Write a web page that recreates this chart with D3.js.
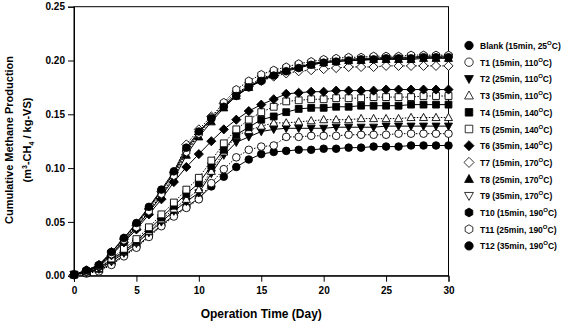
<!DOCTYPE html>
<html>
<head>
<meta charset="utf-8">
<script src="https://cdn.jsdelivr.net/npm/d3@7"></script>
<style>
  body { margin: 0; background: #fff; }
  text { font-family: "Liberation Sans", Arial, sans-serif; font-weight: bold; fill: #000; }
</style>
</head>
<body>
<svg id="svg1" width="570" height="323"></svg>
<script>
// operation days
var days = d3.range(0, 31);
var xTicks = [0, 5, 10, 15, 20, 25, 30];
var yTicks = [0.00, 0.05, 0.10, 0.15, 0.20, 0.25];

var seriesNames = ['Blank', 'T1', 'T2', 'T3', 'T4', 'T5', 'T6', 'T7', 'T8', 'T9', 'T10', 'T11', 'T12'];
var seriesLabels = ['Blank (15min, 25', 'T1 (15min, 110', 'T2 (25min, 110', 'T3 (35min, 110',
                    'T4 (15min, 140', 'T5 (25min, 140', 'T6 (35min, 140', 'T7 (15min, 170',
                    'T8 (25min, 170', 'T9 (35min, 170', 'T10 (15min, 190', 'T11 (25min, 190',
                    'T12 (35min, 190'];

// cumulative methane, m3 CH4 / kg VS, day 0..30
var blank = [0.001, 0.003, 0.005, 0.011, 0.019, 0.027, 0.037, 0.047, 0.056, 0.064, 0.072, 0.083, 0.092, 0.101, 0.108, 0.113,
             0.115, 0.116, 0.117, 0.117, 0.118, 0.118, 0.119, 0.119, 0.120, 0.120, 0.120, 0.121, 0.121, 0.121, 0.121];
var t1 = [0.001, 0.002, 0.004, 0.010, 0.018, 0.026, 0.036, 0.046, 0.055, 0.063, 0.071, 0.086, 0.099, 0.110, 0.117, 0.120,
          0.121, 0.129, 0.129, 0.130, 0.130, 0.130, 0.131, 0.131, 0.131, 0.131, 0.132, 0.132, 0.132, 0.132, 0.132];
var t2 = [0.001, 0.003, 0.006, 0.013, 0.021, 0.030, 0.040, 0.050, 0.060, 0.069, 0.077, 0.095, 0.112, 0.124, 0.129, 0.134,
          0.136, 0.137, 0.137, 0.137, 0.137, 0.138, 0.138, 0.138, 0.138, 0.139, 0.139, 0.139, 0.139, 0.139, 0.139];
var t3 = [0.001, 0.003, 0.006, 0.014, 0.022, 0.031, 0.041, 0.052, 0.062, 0.071, 0.080, 0.097, 0.115, 0.130, 0.135, 0.139,
          0.142, 0.142, 0.143, 0.144, 0.145, 0.145, 0.145, 0.146, 0.146, 0.146, 0.146, 0.147, 0.147, 0.147, 0.147];
var t4 = [0.001, 0.003, 0.007, 0.015, 0.023, 0.032, 0.043, 0.054, 0.065, 0.076, 0.086, 0.102, 0.117, 0.131, 0.138, 0.145,
          0.148, 0.152, 0.155, 0.156, 0.156, 0.157, 0.157, 0.158, 0.158, 0.158, 0.158, 0.159, 0.159, 0.159, 0.159];
var t5 = [0.001, 0.003, 0.007, 0.016, 0.025, 0.034, 0.045, 0.057, 0.068, 0.080, 0.091, 0.107, 0.123, 0.136, 0.145, 0.152,
          0.157, 0.162, 0.163, 0.164, 0.164, 0.165, 0.165, 0.165, 0.166, 0.166, 0.166, 0.166, 0.167, 0.167, 0.167];
var t6 = [0.001, 0.004, 0.008, 0.019, 0.031, 0.043, 0.057, 0.071, 0.087, 0.101, 0.113, 0.125, 0.136, 0.145, 0.153, 0.159,
          0.164, 0.169, 0.170, 0.171, 0.171, 0.172, 0.172, 0.172, 0.172, 0.173, 0.173, 0.173, 0.173, 0.173, 0.173];
var t7 = [0.001, 0.005, 0.010, 0.022, 0.034, 0.047, 0.062, 0.078, 0.096, 0.122, 0.136, 0.148, 0.160, 0.170, 0.176, 0.181,
          0.185, 0.188, 0.190, 0.191, 0.192, 0.193, 0.194, 0.194, 0.194, 0.195, 0.195, 0.195, 0.195, 0.195, 0.195];
var t8 = [0.001, 0.004, 0.009, 0.020, 0.032, 0.045, 0.059, 0.074, 0.090, 0.112, 0.129, 0.143, 0.156, 0.167, 0.175, 0.182,
          0.187, 0.191, 0.194, 0.196, 0.198, 0.199, 0.200, 0.200, 0.201, 0.201, 0.201, 0.201, 0.202, 0.202, 0.202];
var t9 = [0.001, 0.004, 0.009, 0.021, 0.033, 0.046, 0.060, 0.075, 0.092, 0.114, 0.131, 0.145, 0.158, 0.169, 0.177, 0.183,
          0.188, 0.192, 0.195, 0.197, 0.199, 0.200, 0.201, 0.201, 0.202, 0.202, 0.202, 0.203, 0.203, 0.203, 0.203];
var t10 = [0.001, 0.005, 0.010, 0.022, 0.035, 0.048, 0.063, 0.079, 0.095, 0.117, 0.133, 0.146, 0.158, 0.168, 0.176, 0.182,
           0.187, 0.191, 0.194, 0.197, 0.199, 0.200, 0.201, 0.202, 0.202, 0.203, 0.203, 0.203, 0.204, 0.204, 0.204];
var t11 = [0.001, 0.004, 0.009, 0.020, 0.033, 0.045, 0.060, 0.076, 0.093, 0.115, 0.132, 0.147, 0.161, 0.173, 0.181, 0.187,
           0.191, 0.194, 0.197, 0.199, 0.201, 0.202, 0.203, 0.203, 0.204, 0.204, 0.204, 0.205, 0.205, 0.205, 0.205];
var t12 = [0.001, 0.005, 0.010, 0.022, 0.035, 0.049, 0.064, 0.080, 0.097, 0.119, 0.134, 0.146, 0.157, 0.167, 0.175, 0.181,
           0.186, 0.190, 0.193, 0.196, 0.198, 0.199, 0.200, 0.201, 0.201, 0.202, 0.202, 0.202, 0.203, 0.203, 0.203];

var allValues = [blank, t1, t2, t3, t4, t5, t6, t7, t8, t9, t10, t11, t12];
var markerShapes = ['circle', 'circle', 'triDown', 'triUp', 'square', 'square', 'diamond', 'diamond',
                    'triUp', 'triDown', 'hexagon', 'hexagon', 'circle'];
var markerFilled = [true, false, true, false, true, false, true, false, true, false, true, false, true];

var svg = d3.select('#svg1');
var plotLeft = 74, plotRight = 448.5, plotTop = 6.7, plotBottom = 275.7;

var xScale = d3.scaleLinear().domain([0, 30]).range([plotLeft, plotRight]);
var yScale = d3.scaleLinear().domain([0, 0.25]).range([plotBottom, plotTop]);

function markerPath(shape, r) {
    var p = d3.path();
    if (shape == 'circle') {
        p.arc(0, 0, r, 0, 2 * Math.PI);
    } else if (shape == 'square') {
        var s = r * 0.9;
        p.rect(-s, -s, 2 * s, 2 * s);
    } else if (shape == 'diamond') {
        var d = r * 1.2;
        p.moveTo(0, -d); p.lineTo(d, 0); p.lineTo(0, d); p.lineTo(-d, 0); p.closePath();
    } else if (shape == 'triUp') {
        p.moveTo(0, -r * 1.1); p.lineTo(r * 1.05, r * 0.8); p.lineTo(-r * 1.05, r * 0.8); p.closePath();
    } else if (shape == 'triDown') {
        p.moveTo(0, r * 1.1); p.lineTo(r * 1.05, -r * 0.8); p.lineTo(-r * 1.05, -r * 0.8); p.closePath();
    } else if (shape == 'hexagon') {
        for (var k = 0; k < 6; k++) {
            var a = Math.PI / 6 + k * Math.PI / 3;
            if (k == 0) p.moveTo(r * 1.05 * Math.cos(a), r * 1.05 * Math.sin(a));
            else p.lineTo(r * 1.05 * Math.cos(a), r * 1.05 * Math.sin(a));
        }
        p.closePath();
    }
    return p.toString();
}

// frame
svg.append('rect')
    .attr('x', plotLeft).attr('y', plotTop)
    .attr('width', plotRight - plotLeft).attr('height', plotBottom - plotTop)
    .attr('fill', 'none').attr('stroke', '#000').attr('stroke-width', 1);

// axes
var yAxis = d3.axisLeft(yScale).tickValues(yTicks).tickFormat(d3.format('.2f')).tickSize(6).tickPadding(3);
var xAxis = d3.axisBottom(xScale).tickValues(xTicks).tickFormat(d3.format('d')).tickSize(6).tickPadding(5);

var gy = svg.append('g').attr('transform', 'translate(' + plotLeft + ',0)').call(yAxis);
var gx = svg.append('g').attr('transform', 'translate(0,' + plotBottom + ')').call(xAxis);
[gx, gy].forEach(function(g) {
    g.select('.domain').attr('stroke', '#000');
    g.selectAll('.tick line').attr('stroke', '#000');
    g.selectAll('.tick text').style('font-size', '10px').style('font-family', '"Liberation Sans", Arial, sans-serif')
        .style('font-weight', 'bold');
});

// series
var line = d3.line()
    .x(function(d, i) { return xScale(days[i]); })
    .y(function(d) { return yScale(d); });

allValues.forEach(function(vals, si) {
    var g = svg.append('g');
    g.append('path')
        .datum(vals)
        .attr('d', line)
        .attr('fill', 'none')
        .attr('stroke', '#000')
        .attr('stroke-width', 1)
        .attr('stroke-dasharray', markerFilled[si] ? null : '1.5,1.5');
    g.selectAll('path.mk').data(vals).enter()
        .append('path')
        .attr('class', 'mk')
        .attr('d', markerPath(markerShapes[si], 3.8))
        .attr('transform', function(d, i) { return 'translate(' + xScale(days[i]) + ',' + yScale(d) + ')'; })
        .attr('fill', markerFilled[si] ? '#000' : '#fff')
        .attr('stroke', '#000')
        .attr('stroke-width', 0.9);
});

// axis titles
svg.append('text')
    .attr('x', (plotLeft + plotRight) / 2).attr('y', 318)
    .attr('text-anchor', 'middle')
    .style('font-size', '12px')
    .text('Operation Time (Day)');

var yt = svg.append('text')
    .attr('transform', 'translate(13,140) rotate(-90)')
    .attr('text-anchor', 'middle')
    .style('font-size', '11px');
yt.append('tspan').attr('x', 0).attr('y', 0).text('Cumulative Methane Production');

var yt2 = svg.append('text')
    .attr('transform', 'translate(31,140) rotate(-90)')
    .attr('text-anchor', 'middle')
    .style('font-size', '11px');
yt2.append('tspan').text('(m');
yt2.append('tspan').attr('dy', -4).style('font-size', '7px').text('3');
yt2.append('tspan').attr('dy', 4).text('-CH');
yt2.append('tspan').attr('dy', 3).style('font-size', '7px').text('4');
yt2.append('tspan').attr('dy', -3).text(' / kg-VS)');

// legend
var legend = svg.append('g').attr('transform', 'translate(469,45.5)');
seriesNames.forEach(function(name, i) {
    var row = legend.append('g').attr('transform', 'translate(0,' + (i * 16.7) + ')');
    row.append('path')
        .attr('d', markerPath(markerShapes[i], 4.2))
        .attr('fill', markerFilled[i] ? '#000' : '#fff')
        .attr('stroke', '#000')
        .attr('stroke-width', 0.8);
    var t = row.append('text')
        .attr('x', 11).attr('y', 3.5)
        .style('font-size', '8.5px');
    t.append('tspan').text(seriesLabels[i]);
    t.append('tspan').attr('dy', -4).style('font-size', '6px').text('O');
    t.append('tspan').attr('dy', 4).text('C)');
});
</script>
</body>
</html>
